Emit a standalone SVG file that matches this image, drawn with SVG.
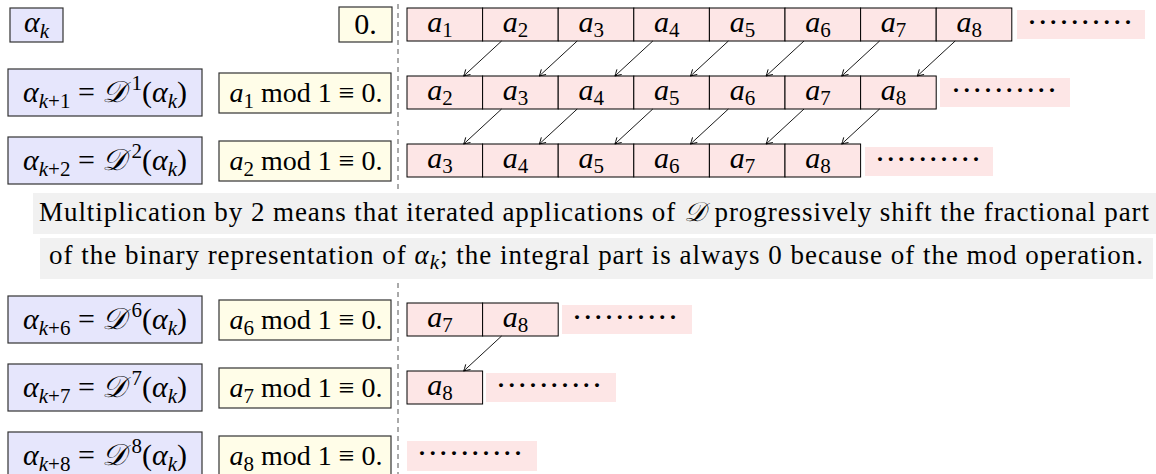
<svg xmlns="http://www.w3.org/2000/svg" width="1156" height="474" viewBox="0 0 1156 474">
<style>
.bg{fill:#fff}
.ab{fill:#e6e6fc;stroke:#333;stroke-width:1.2}
.yb{fill:#fffde8;stroke:#333;stroke-width:1.2}
.cell{fill:#fde6e6;stroke:#000;stroke-width:1}
.dots{fill:#fde6e6}
.gb{fill:#f1f1f1}
.m{font-family:"Liberation Serif","DejaVu Serif",serif;font-size:30px;fill:#000}
.y{font-size:28px}
.t{font-family:"Liberation Serif","DejaVu Serif",serif;font-size:27px;fill:#000}
.c{text-anchor:middle}
.i{font-style:italic}
.s{font-size:21px}
.d{font-family:"Liberation Serif","DejaVu Serif",serif;font-size:24px;font-weight:bold;fill:#000}
.dash{stroke:#555;stroke-width:1;stroke-dasharray:5 4;fill:none}
.ar{stroke:#000;stroke-width:0.9;fill:none;marker-end:url(#ah)}
</style>
<defs>
<marker id="ah" viewBox="-7 -4 8 8" refX="0" refY="0" markerWidth="8" markerHeight="8" markerUnits="userSpaceOnUse" orient="auto">
<path d="M-6,-3.5 Q-1.8,-0.9 0,0 Q-1.8,0.9 -6,3.5" fill="none" stroke="#000" stroke-width="0.9"/>
</marker>
</defs>
<rect class="bg" x="0" y="0" width="1156" height="474"/>
<line class="dash" x1="398" y1="4" x2="398" y2="474"/>

<g id="text-line1">
<rect class="gb" x="33" y="193" width="1123" height="41"/>
<text class="t" x="39" y="221" textLength="1110" lengthAdjust="spacing">Multiplication by 2 means that iterated applications of <tspan class="i">𝒟</tspan> progressively shift the fractional part</text>
</g>
<g id="text-line2">
<rect class="gb" x="40" y="238" width="1113" height="41"/>
<text class="t" x="49" y="264" textLength="1094" lengthAdjust="spacing">of the binary representation of <tspan class="i">α</tspan><tspan class="s i" dy="5">k</tspan><tspan dy="-5">; the integral part is always 0 because of the mod operation.</tspan></text>
</g>

<!-- Row 1 -->
<g id="alpha-k">
<rect class="ab" x="10" y="8" width="53" height="34"/>
<text class="m c" x="36.5" y="32"><tspan class="i">α</tspan><tspan class="s i" dy="6">k</tspan></text>
</g>
<g id="zero">
<rect class="yb" x="339" y="7" width="53" height="35"/>
<text class="m c" x="365.5" y="34">0.</text>
</g>
<g id="row1">
<rect class="cell" x="407" y="8" width="75.6" height="33"/>
<rect class="cell" x="482.6" y="8" width="75.6" height="33"/>
<rect class="cell" x="558.2" y="8" width="75.6" height="33"/>
<rect class="cell" x="633.8" y="8" width="75.6" height="33"/>
<rect class="cell" x="709.4" y="8" width="75.6" height="33"/>
<rect class="cell" x="785" y="8" width="75.6" height="33"/>
<rect class="cell" x="860.6" y="8" width="75.6" height="33"/>
<rect class="cell" x="936.2" y="8" width="75.6" height="33"/>
<text class="m c" y="32"><tspan x="440" class="i">a</tspan><tspan class="s" dy="5">1</tspan></text>
<text class="m c" y="32"><tspan x="515.6" class="i">a</tspan><tspan class="s" dy="5">2</tspan></text>
<text class="m c" y="32"><tspan x="591.2" class="i">a</tspan><tspan class="s" dy="5">3</tspan></text>
<text class="m c" y="32"><tspan x="666.8" class="i">a</tspan><tspan class="s" dy="5">4</tspan></text>
<text class="m c" y="32"><tspan x="742.4" class="i">a</tspan><tspan class="s" dy="5">5</tspan></text>
<text class="m c" y="32"><tspan x="818" class="i">a</tspan><tspan class="s" dy="5">6</tspan></text>
<text class="m c" y="32"><tspan x="893.6" class="i">a</tspan><tspan class="s" dy="5">7</tspan></text>
<text class="m c" y="32"><tspan x="969.2" class="i">a</tspan><tspan class="s" dy="5">8</tspan></text>
<rect class="dots" x="1017" y="10" width="128" height="29"/>
<text class="d" x="1028" y="30" textLength="104" lengthAdjust="spacing">··········</text>
</g>

<!-- Row 2 -->
<g id="alpha-k1">
<rect class="ab" x="8" y="69" width="194" height="47"/>
<text class="m c" x="105" y="102"><tspan class="i">α</tspan><tspan class="s" dy="6"><tspan class="i">k</tspan>+1</tspan><tspan dy="-6"> = </tspan><tspan class="i">𝒟</tspan><tspan class="s" dx="5" dy="-12">1</tspan><tspan dy="12">(</tspan><tspan class="i">α</tspan><tspan class="s i" dy="6">k</tspan><tspan dy="-6">)</tspan></text>
</g>
<g id="mod1">
<rect class="yb" x="219" y="73" width="172" height="40"/>
<text class="m y c" x="306" y="102"><tspan class="i">a</tspan><tspan class="s" dy="6">1</tspan><tspan dy="-6"> mod 1 ≡ 0.</tspan></text>
</g>
<g id="row2">
<rect class="cell" x="407" y="76" width="75.6" height="33"/>
<rect class="cell" x="482.6" y="76" width="75.6" height="33"/>
<rect class="cell" x="558.2" y="76" width="75.6" height="33"/>
<rect class="cell" x="633.8" y="76" width="75.6" height="33"/>
<rect class="cell" x="709.4" y="76" width="75.6" height="33"/>
<rect class="cell" x="785" y="76" width="75.6" height="33"/>
<rect class="cell" x="860.6" y="76" width="75.6" height="33"/>
<text class="m c" y="100"><tspan x="440" class="i">a</tspan><tspan class="s" dy="5">2</tspan></text>
<text class="m c" y="100"><tspan x="515.6" class="i">a</tspan><tspan class="s" dy="5">3</tspan></text>
<text class="m c" y="100"><tspan x="591.2" class="i">a</tspan><tspan class="s" dy="5">4</tspan></text>
<text class="m c" y="100"><tspan x="666.8" class="i">a</tspan><tspan class="s" dy="5">5</tspan></text>
<text class="m c" y="100"><tspan x="742.4" class="i">a</tspan><tspan class="s" dy="5">6</tspan></text>
<text class="m c" y="100"><tspan x="818" class="i">a</tspan><tspan class="s" dy="5">7</tspan></text>
<text class="m c" y="100"><tspan x="893.6" class="i">a</tspan><tspan class="s" dy="5">8</tspan></text>
<rect class="dots" x="940" y="78" width="130" height="29"/>
<text class="d" x="952" y="98" textLength="104" lengthAdjust="spacing">··········</text>
</g>

<!-- Row 3 -->
<g id="alpha-k2">
<rect class="ab" x="8" y="137" width="194" height="47"/>
<text class="m c" x="105" y="170"><tspan class="i">α</tspan><tspan class="s" dy="6"><tspan class="i">k</tspan>+2</tspan><tspan dy="-6"> = </tspan><tspan class="i">𝒟</tspan><tspan class="s" dx="5" dy="-12">2</tspan><tspan dy="12">(</tspan><tspan class="i">α</tspan><tspan class="s i" dy="6">k</tspan><tspan dy="-6">)</tspan></text>
</g>
<g id="mod2">
<rect class="yb" x="219" y="141" width="172" height="40"/>
<text class="m y c" x="306" y="170"><tspan class="i">a</tspan><tspan class="s" dy="6">2</tspan><tspan dy="-6"> mod 1 ≡ 0.</tspan></text>
</g>
<g id="row3">
<rect class="cell" x="407" y="144" width="75.6" height="33"/>
<rect class="cell" x="482.6" y="144" width="75.6" height="33"/>
<rect class="cell" x="558.2" y="144" width="75.6" height="33"/>
<rect class="cell" x="633.8" y="144" width="75.6" height="33"/>
<rect class="cell" x="709.4" y="144" width="75.6" height="33"/>
<rect class="cell" x="785" y="144" width="75.6" height="33"/>
<text class="m c" y="168"><tspan x="440" class="i">a</tspan><tspan class="s" dy="5">3</tspan></text>
<text class="m c" y="168"><tspan x="515.6" class="i">a</tspan><tspan class="s" dy="5">4</tspan></text>
<text class="m c" y="168"><tspan x="591.2" class="i">a</tspan><tspan class="s" dy="5">5</tspan></text>
<text class="m c" y="168"><tspan x="666.8" class="i">a</tspan><tspan class="s" dy="5">6</tspan></text>
<text class="m c" y="168"><tspan x="742.4" class="i">a</tspan><tspan class="s" dy="5">7</tspan></text>
<text class="m c" y="168"><tspan x="818" class="i">a</tspan><tspan class="s" dy="5">8</tspan></text>
<rect class="dots" x="865" y="147" width="128" height="29"/>
<text class="d" x="876" y="167" textLength="104" lengthAdjust="spacing">··········</text>
</g>

<!-- Row 6 -->
<g id="alpha-k6">
<rect class="ab" x="8" y="296" width="194" height="47"/>
<text class="m c" x="105" y="329"><tspan class="i">α</tspan><tspan class="s" dy="6"><tspan class="i">k</tspan>+6</tspan><tspan dy="-6"> = </tspan><tspan class="i">𝒟</tspan><tspan class="s" dx="5" dy="-12">6</tspan><tspan dy="12">(</tspan><tspan class="i">α</tspan><tspan class="s i" dy="6">k</tspan><tspan dy="-6">)</tspan></text>
</g>
<g id="mod6">
<rect class="yb" x="219" y="300" width="172" height="40"/>
<text class="m y c" x="306" y="329"><tspan class="i">a</tspan><tspan class="s" dy="6">6</tspan><tspan dy="-6"> mod 1 ≡ 0.</tspan></text>
</g>
<g id="row6">
<rect class="cell" x="407" y="303" width="75.6" height="33"/>
<rect class="cell" x="482.6" y="303" width="75.6" height="33"/>
<text class="m c" y="327"><tspan x="440" class="i">a</tspan><tspan class="s" dy="5">7</tspan></text>
<text class="m c" y="327"><tspan x="515.6" class="i">a</tspan><tspan class="s" dy="5">8</tspan></text>
<rect class="dots" x="562" y="305" width="130" height="29"/>
<text class="d" x="573" y="325" textLength="104" lengthAdjust="spacing">··········</text>
</g>

<!-- Row 7 -->
<g id="alpha-k7">
<rect class="ab" x="8" y="364" width="194" height="47"/>
<text class="m c" x="105" y="397"><tspan class="i">α</tspan><tspan class="s" dy="6"><tspan class="i">k</tspan>+7</tspan><tspan dy="-6"> = </tspan><tspan class="i">𝒟</tspan><tspan class="s" dx="5" dy="-12">7</tspan><tspan dy="12">(</tspan><tspan class="i">α</tspan><tspan class="s i" dy="6">k</tspan><tspan dy="-6">)</tspan></text>
</g>
<g id="mod7">
<rect class="yb" x="219" y="368" width="172" height="40"/>
<text class="m y c" x="306" y="397"><tspan class="i">a</tspan><tspan class="s" dy="6">7</tspan><tspan dy="-6"> mod 1 ≡ 0.</tspan></text>
</g>
<g id="row7">
<rect class="cell" x="407" y="371" width="75.6" height="33"/>
<text class="m c" y="395"><tspan x="440" class="i">a</tspan><tspan class="s" dy="5">8</tspan></text>
<rect class="dots" x="486" y="373" width="130" height="29"/>
<text class="d" x="497" y="393" textLength="104" lengthAdjust="spacing">··········</text>
</g>

<!-- Row 8 -->
<g id="alpha-k8">
<rect class="ab" x="8" y="432" width="194" height="47"/>
<text class="m c" x="105" y="465"><tspan class="i">α</tspan><tspan class="s" dy="6"><tspan class="i">k</tspan>+8</tspan><tspan dy="-6"> = </tspan><tspan class="i">𝒟</tspan><tspan class="s" dx="5" dy="-12">8</tspan><tspan dy="12">(</tspan><tspan class="i">α</tspan><tspan class="s i" dy="6">k</tspan><tspan dy="-6">)</tspan></text>
</g>
<g id="mod8">
<rect class="yb" x="219" y="436" width="172" height="40"/>
<text class="m y c" x="306" y="465"><tspan class="i">a</tspan><tspan class="s" dy="6">8</tspan><tspan dy="-6"> mod 1 ≡ 0.</tspan></text>
</g>
<g id="row8">
<rect class="dots" x="407" y="441" width="130" height="30"/>
<text class="d" x="418" y="461" textLength="104" lengthAdjust="spacing">··········</text>
</g>

<g id="connectors">
<line class="ar" x1="501.6" y1="41" x2="463.7" y2="76"/>
<line class="ar" x1="577.2" y1="41" x2="539.3" y2="76"/>
<line class="ar" x1="652.8" y1="41" x2="614.9" y2="76"/>
<line class="ar" x1="728.4" y1="41" x2="690.5" y2="76"/>
<line class="ar" x1="804" y1="41" x2="766.1" y2="76"/>
<line class="ar" x1="879.6" y1="41" x2="841.7" y2="76"/>
<line class="ar" x1="955.2" y1="41" x2="917.3" y2="76"/>
<line class="ar" x1="501.6" y1="109" x2="463.7" y2="144"/>
<line class="ar" x1="577.2" y1="109" x2="539.3" y2="144"/>
<line class="ar" x1="652.8" y1="109" x2="614.9" y2="144"/>
<line class="ar" x1="728.4" y1="109" x2="690.5" y2="144"/>
<line class="ar" x1="804" y1="109" x2="766.1" y2="144"/>
<line class="ar" x1="879.6" y1="109" x2="841.7" y2="144"/>
<line class="ar" x1="501.6" y1="336" x2="463.7" y2="371"/>
</g>
</svg>
